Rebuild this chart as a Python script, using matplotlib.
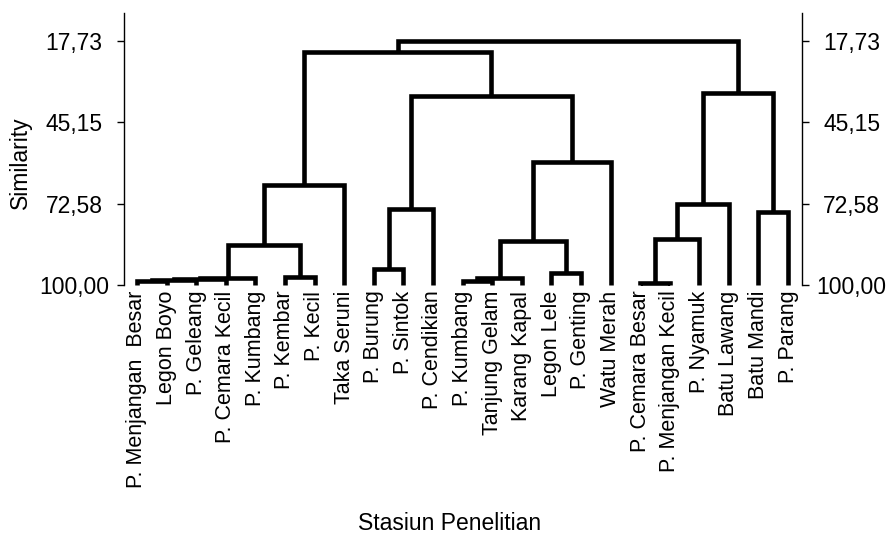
import numpy as np
import matplotlib
matplotlib.use("Agg")
import matplotlib.pyplot as plt

plt.rcParams['font.family'] = ['Liberation Sans', 'DejaVu Sans']

# stations in leaf order (left to right)
stations = ["P. Menjangan  Besar", "Legon Boyo", "P. Geleang", "P. Cemara Kecil",
            "P. Kumbang", "P. Kembar", "P. Kecil", "Taka Seruni",
            "P. Burung", "P. Sintok", "P. Cendikian",
            "P. Kumbang", "Tanjung Gelam", "Karang Kapal", "Legon Lele",
            "P. Genting", "Watu Merah",
            "P. Cemara Besar", "P. Menjangan Kecil", "P. Nyamuk", "Batu Lawang",
            "Batu Mandi", "P. Parang"]

# linkage: left node, right node, similarity (new node ids start at len(stations))
link_left = [0, 23, 24, 25, 5, 26, 28, 8, 30, 11, 32, 14, 33, 35, 31, 29,
             17, 39, 40, 21, 41, 38]
link_right = [1, 2, 3, 4, 6, 27, 7, 9, 10, 12, 13, 15, 34, 16, 36, 37,
              18, 19, 20, 22, 42, 43]
link_sim = [98.8, 98.4, 98.0, 97.5, 97.3, 86.5, 66.3, 94.7, 74.5, 98.5, 97.8,
            96.1, 85.1, 58.7, 36.4, 21.4, 99.2, 84.6, 72.8, 75.5, 35.3, 17.73]

sim_ticks = [17.73, 45.15, 72.58, 100.00]
sim_labels = ["17,73", "45,15", "72,58", "100,00"]

W, H = 890, 537
fig = plt.figure(figsize=(W / 100, H / 100), dpi=100)
ax = fig.add_axes([123.5 / W, 1 - 285 / H, (802.3 - 123.5) / W, (285 - 13) / H])

n = len(stations)
xpos = list(np.arange(n, dtype=float))
ypos = [100.0] * n
for a, b, s in zip(link_left, link_right, link_sim):
    ax.plot([xpos[a], xpos[a], xpos[b], xpos[b]], [ypos[a], s, s, ypos[b]],
            color='black', lw=3.3, solid_joinstyle='miter',
            solid_capstyle='butt', clip_on=False)
    xpos.append((xpos[a] + xpos[b]) / 2)
    ypos.append(s)

ax.set_xlim(-0.456, n - 1 + 0.48)
ax.set_ylim(100, 8.4)

ax.set_xticks(range(n))
ax.set_xticklabels(stations, rotation=90, fontsize=15.5)
ax.tick_params(axis='x', length=0, pad=4)

# tick labels centred about 50 px away from each spine
ax.set_yticks(sim_ticks)
ax.set_yticklabels(sim_labels)
ax.tick_params(axis='y', direction='out', length=5, width=1, pad=30.5,
               labelsize=16.5, left=True, right=True,
               labelleft=True, labelright=True)
for tk in ax.yaxis.get_major_ticks():
    tk.label1.set_horizontalalignment('center')
    tk.label2.set_horizontalalignment('center')

for side in ['top', 'bottom']:
    ax.spines[side].set_visible(False)
for side in ['left', 'right']:
    ax.spines[side].set_linewidth(1)

fig.text(20 / W, 1 - 163 / H, "Similarity", rotation=90, fontsize=16.5,
         ha='center', va='center')
fig.text(450 / W, 1 - 512 / H, "Stasiun Penelitian", fontsize=16.5,
         ha='center', va='top')

fig.savefig("out.png", dpi=100)
